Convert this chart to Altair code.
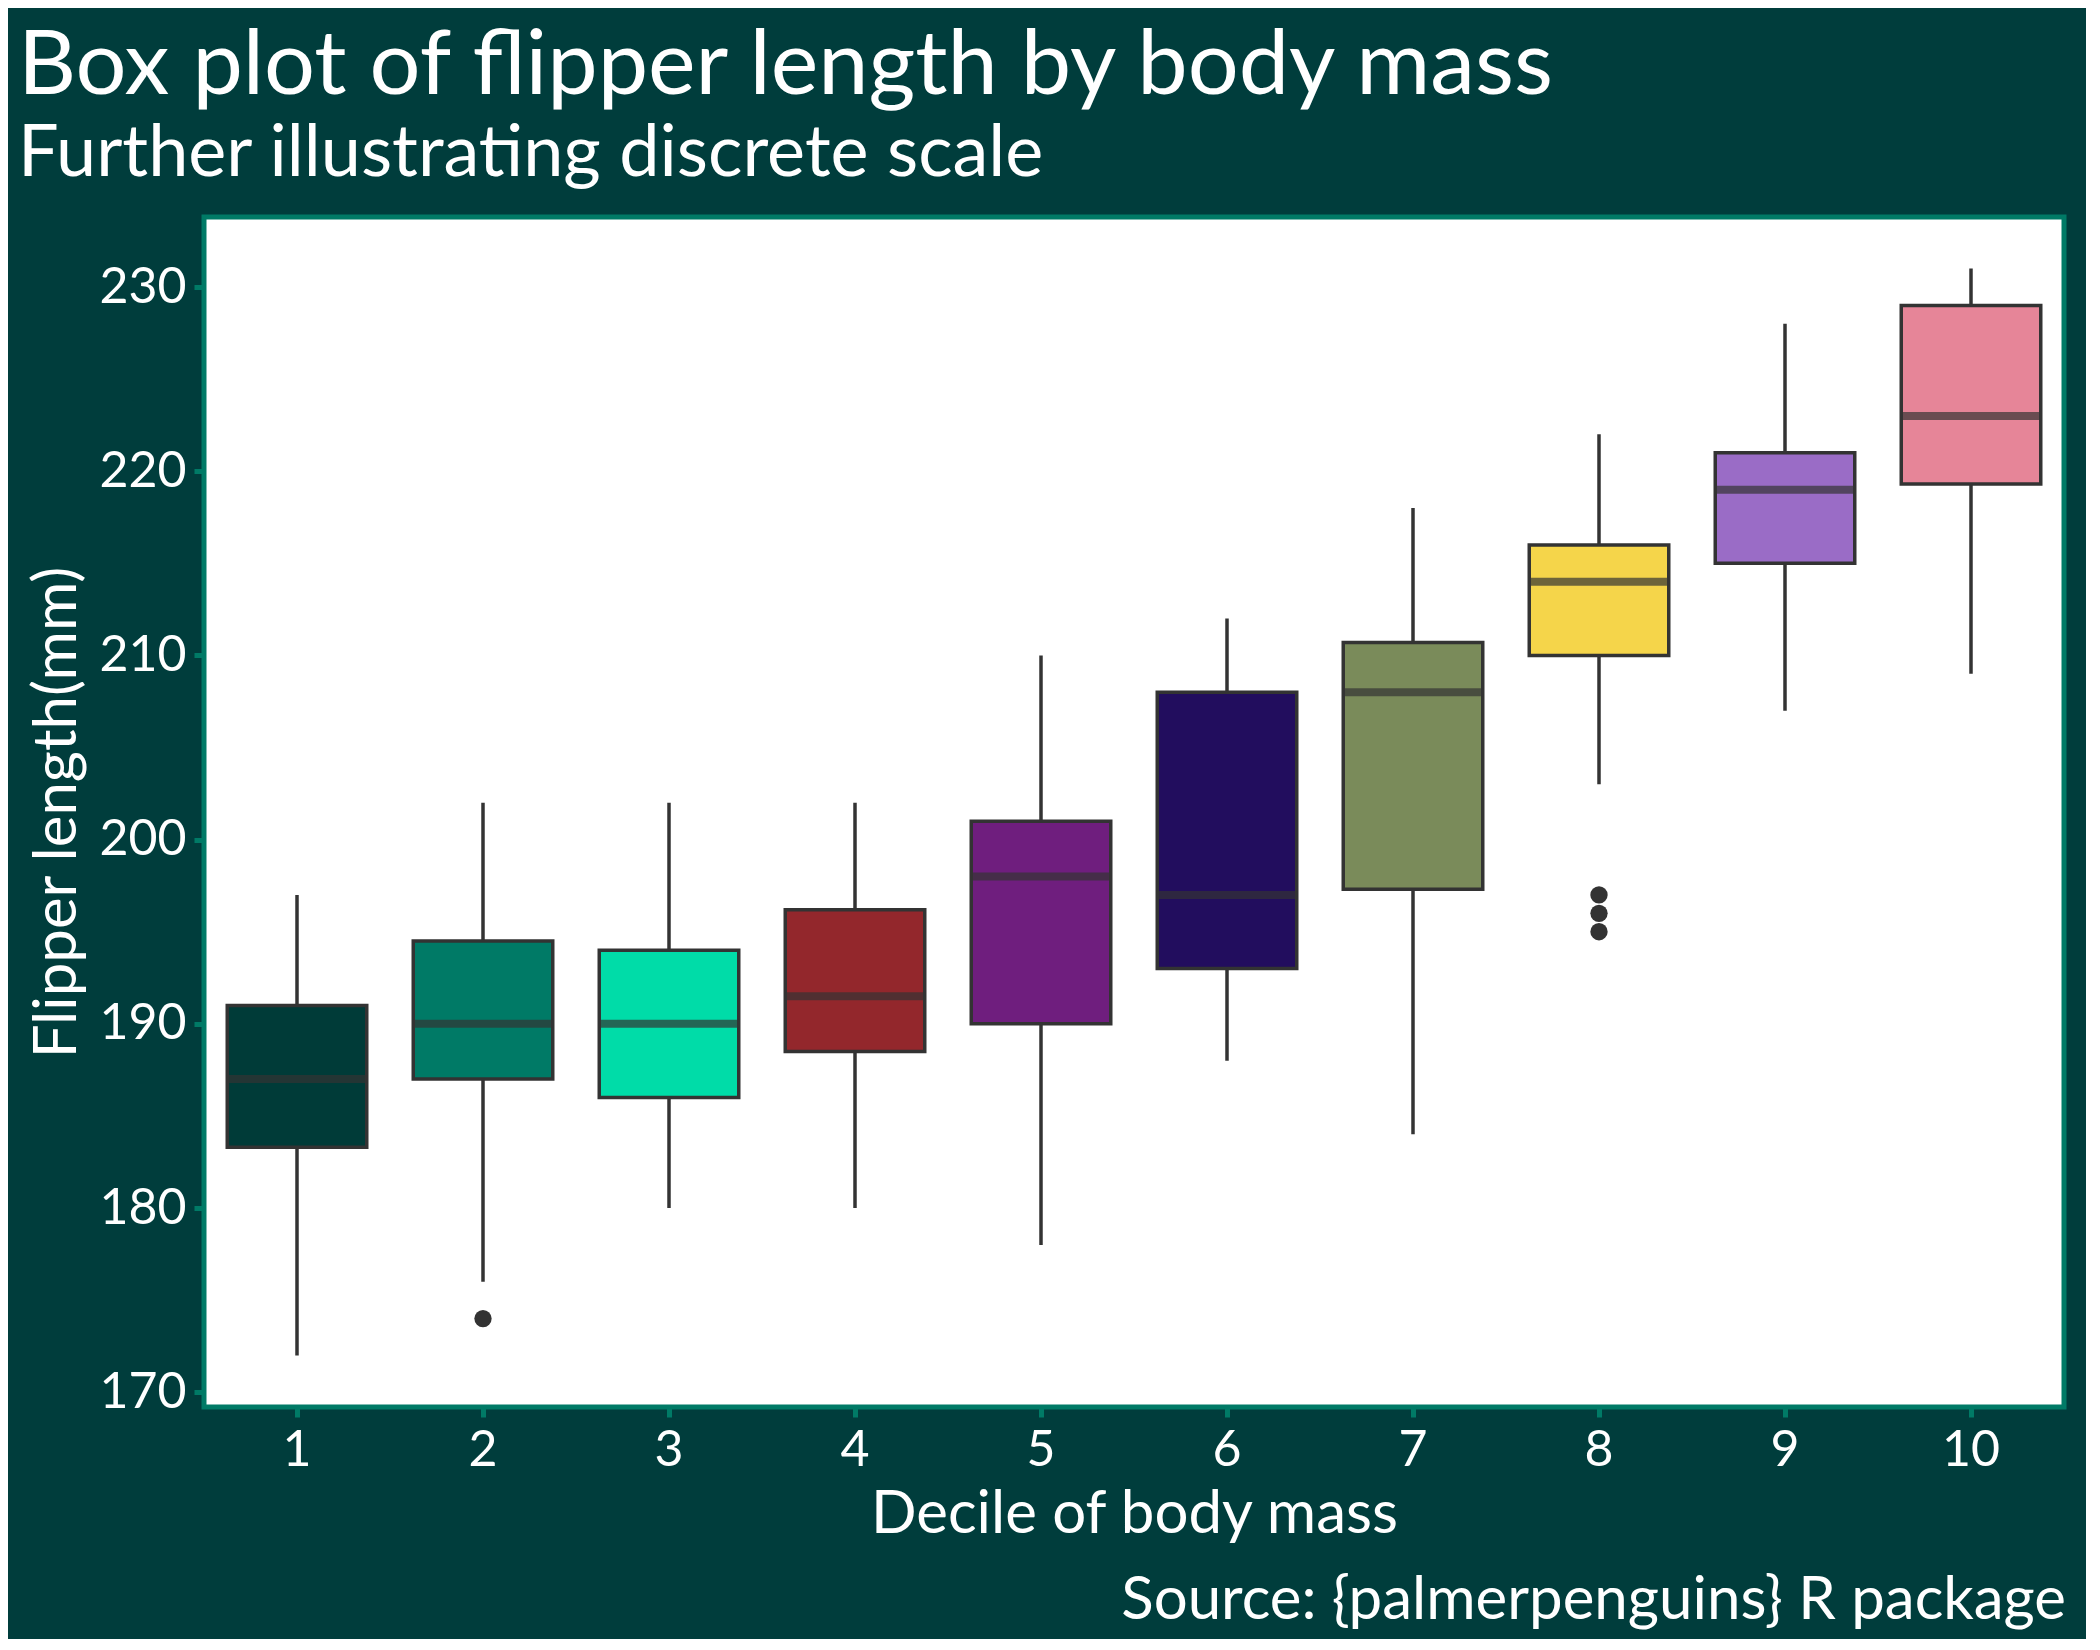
import altair as alt
import pandas as pd

deciles = [1, 2, 3, 4, 5, 6, 7, 8, 9, 10]
lower = [172, 176, 180, 180, 178, 188, 184, 203, 207, 209]
q1 = [183.3, 187, 186, 188.5, 190, 193, 197.3, 210, 215, 219.3]
median = [187, 190, 190, 191.5, 198, 197, 208, 214, 219, 223]
q3 = [191, 194.5, 194, 196.2, 201, 208, 210.7, 216, 221, 229]
upper = [197, 202, 202, 202, 210, 212, 218, 222, 228, 231]
colors = ["#003B38", "#007A66", "#00DCA8", "#93272C", "#6F1E7E",
          "#220D5E", "#7A8B5A", "#F5D54A", "#9A6CC6", "#E68598"]
out_decile = [2, 8, 8, 8]
out_value = [174, 195, 196, 197]

df = pd.DataFrame(dict(d=deciles, lo=lower, q1=q1, med=median, q3=q3, hi=upper))
odf = pd.DataFrame(dict(d=out_decile, v=out_value))

W, H = 1860, 1190
FONT = "Lato"
xenc = alt.X("d:O", title="Decile of body mass", sort=deciles,
             axis=alt.Axis(labelAngle=0))
yscale = alt.Scale(domain=[169.2, 233.8], nice=False, zero=False)
yenc = alt.Y("lo:Q", title="Flipper length(mm)", scale=yscale,
             axis=alt.Axis(values=[170, 180, 190, 200, 210, 220, 230]))

base = alt.Chart(df)
whisk = base.mark_rule(color="#333333", strokeWidth=3.5).encode(x=xenc, y=yenc, y2="hi:Q")
box = base.mark_bar(width=alt.RelativeBandSize(0.75), stroke="#333333", strokeWidth=3.5).encode(
    x=xenc, y=alt.Y("q1:Q", scale=yscale), y2="q3:Q",
    color=alt.Color("d:O", scale=alt.Scale(domain=deciles, range=colors), legend=None))
med = base.mark_tick(color="#333333", thickness=8, size=139).encode(
    x=xenc, y=alt.Y("med:Q", scale=yscale))
pts = alt.Chart(odf).mark_circle(color="#333333", size=300, opacity=1).encode(
    x=xenc, y=alt.Y("v:Q", scale=yscale))
cap = alt.Chart(pd.DataFrame({"t": ["Source: {palmerpenguins} R package"]})).mark_text(
    align="right", baseline="bottom", color="white", fontSize=60, font=FONT).encode(
    text="t:N", x=alt.value(W + 2), y=alt.value(H + 225))

chart = alt.layer(whisk, box, med, pts, cap).properties(
    width=W, height=H,
    background="#003D3C",
    padding={"left": 10, "right": 20, "top": 14, "bottom": 8},
    title=alt.TitleParams("Box plot of flipper length by body mass",
                          subtitle="Further illustrating discrete scale",
                          anchor="start", frame="group", offset=26,
                          color="white", subtitleColor="white",
                          fontSize=90, subtitleFontSize=72, font=FONT, subtitleFont=FONT,
                          fontWeight="normal", dx=-186, subtitlePadding=6),
).configure_view(fill="white", stroke="#007A66", strokeWidth=5).configure_axis(
    grid=False, domain=False, tickColor="#007A66", tickWidth=5, tickSize=10,
    labelColor="white", titleColor="white", labelFont=FONT, titleFont=FONT,
    labelFontSize=50, titleFontSize=60, titleFontWeight="normal", labelPadding=8,
    titlePadding=10)

chart.save("out.html", embed_options={"renderer": "svg", "actions": False})
